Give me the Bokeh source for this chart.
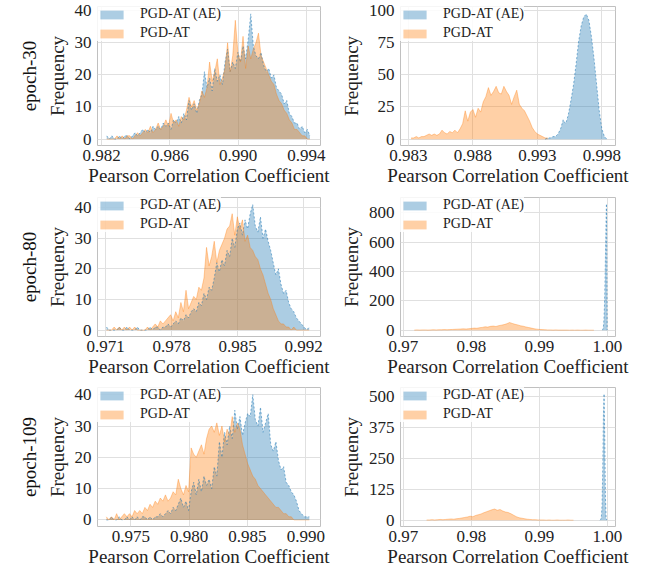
import numpy as np
from bokeh.plotting import figure
from bokeh.layouts import column, row
from bokeh.models import Range1d, FixedTicker, NumeralTickFormatter, Title
from bokeh.embed import file_html
from bokeh.resources import INLINE

LABEL_AE = "PGD-AT (AE)"
LABEL_AT = "PGD-AT"
ROW_LABELS = ["epoch-30", "epoch-80", "epoch-109"]

# ---------------- epoch-30, left (shared bin grid) ----------------
E30_L_X = (0.9823, 0.9942, 80)
E30_AE_L = [1,0,1,0,0,1,0,1,1,0, 1,2,1,2,3,2,3,2,4,3, 4,3,5,4,5,3,6,5,7,5,
            8,6,12,9,11,8,12,14,21,16, 19,15,22,18,20,17,24,28,21,24,
            22,27,24,29,25,31,39,29,26,25, 27,23,21,22,19,20,16,15,14,11,
            12,8,7,5,5,3,4,2,3,1]
E30_AT_L = [0,0,0,0,1,0,1,0,1,1, 0,1,2,1,2,3,2,4,2,3, 5,3,4,6,4,8,5,6,4,7,
            6,9,13,10,12,9,11,15,13,16, 24,18,21,25,17,19,22,30,21,26,
            37,27,24,32,22,29,25,28,30,33, 26,24,22,20,18,17,14,12,11,9,
            8,6,5,3,3,2,1,1,0,0]

# ---------------- epoch-80, left ----------------
E80_L_X = (0.9711, 0.9926, 80)
E80_AE_L = [1,0,0,0,0,1,0,0,1,0, 0,0,1,0,0,0,0,1,0,1, 1,0,1,1,2,1,2,3,2,4,
            3,5,4,6,7,6,9,8,12,10, 14,13,17,22,19,23,21,26,24,30,
            27,33,35,31,36,33,38,41,34,32, 37,30,33,29,26,22,18,20,15,12,
            13,9,7,6,4,3,2,1,0,1]
E80_AT_L = [0,0,0,1,0,1,0,1,0,1, 0,1,0,0,0,0,1,0,1,2, 1,3,2,3,4,5,3,6,4,9,
            6,13,7,9,11,10,14,13,17,27, 21,24,29,22,26,28,30,33,34,38,
            31,37,33,36,29,31,27,26,24,23, 20,18,15,12,10,7,5,3,2,2,
            1,1,0,1,0,0,0,0,0,0]

# ---------------- epoch-109, left ----------------
E109_L_X = (0.9729, 0.9903, 80)
E109_AE_L = [0,0,1,0,0,1,0,0,1,0, 1,0,1,0,1,1,0,1,0,1, 1,2,1,2,3,2,4,3,5,7,
             4,6,3,9,12,8,13,9,14,11, 13,10,17,14,25,20,28,24,30,26,
             35,29,33,27,31,34,33,40,32,30, 36,28,31,34,24,22,25,19,16,17,
             12,11,9,8,6,3,2,1,1,1]
E109_AT_L = [1,0,1,0,2,0,1,2,1,2, 1,3,2,3,2,4,3,5,4,6, 5,7,6,8,6,7,9,8,13,10,
             8,11,9,23,21,20,22,24,21,26, 29,30,28,31,27,30,25,29,27,33,
             28,31,29,24,21,18,16,14,13,11, 10,9,8,7,6,5,4,4,3,2,
             2,1,1,0,0,0,0,0,0,0]

# ---------------- epoch-30, right ----------------
E30_AT_R_X = (0.9832, 0.9938, 54)
E30_AT_R = [1,1,2,1,2,2,3,4,3,4, 3,4,7,5,4,6,5,7,5,8, 12,22,14,21,23,17,24,21,29,33,
            40,34,37,41,36,35,41,37,34,27, 33,38,27,24,22,18,14,9,6,4, 3,2,1,1]
E30_AE_R_X = (0.9936, 0.9984, 25)
E30_AE_R = [0,1,1,2,2,4,8,15,12,19, 30,42,58,76,88,95,97,92,79,62, 42,22,8,2,0]

# ---------------- epoch-80, right ----------------
E80_AT_R_X = (0.9716, 0.9980, 67)
E80_AT_R = [1,2,1,2,2,1,2,3,2,3, 3,4,3,4,5,6,7,8,9,8, 10,12,14,13,17,19,23,21,26,28,
            25,31,34,38,44,52,46,40,36,30, 27,22,18,14,10,7,5,4,3,2,
            2,1,2,1,1,1,1,0,1,0, 1,0,0,1,0,0,0]
E80_AE_R_X = (0.99920, 0.99995, 16)
E80_AE_R = [0,2,5,12,25,50,95,160,250,370,500,640,780,860,520,0]

# ---------------- epoch-109, right ----------------
E109_AT_R_X = (0.9734, 0.9950, 55)
E109_AT_R = [1,1,2,1,2,3,2,3,4,5, 4,6,7,9,11,13,16,14,19,22, 25,30,34,38,42,45,40,43,37,33,
             31,26,20,14,10,8,6,4,3,2, 2,1,1,1,0,1,0,0,1,0, 0,0,1,0,0]
E109_AE_R_X = (0.99890, 0.99990, 11)
E109_AE_R = [0,3,12,60,200,420,510,330,90,10,0]

# ticks
X_TICKS = [[0.982, 0.986, 0.990, 0.994], [0.983, 0.988, 0.993, 0.998],
           [0.971, 0.978, 0.985, 0.992], [0.97, 0.98, 0.99, 1.00],
           [0.975, 0.980, 0.985, 0.990], [0.97, 0.98, 0.99, 1.00]]
Y_TICKS = [[0, 10, 20, 30, 40], [0, 25, 50, 75, 100],
           [0, 10, 20, 30, 40], [0, 200, 400, 600, 800],
           [0, 10, 20, 30, 40], [0, 125, 250, 375, 500]]

BLUE = "#1f77b4"
ORANGE = "#ff7f0e"
FONT = "Liberation Serif"
TEXT = "#222222"


def grid_x(spec):
    a, b, n = spec
    return np.linspace(a, b, n)


def make_panel(xa, ya, xb, yb, xr, yr, xt, yt, xfmt, left, height, top, epoch=None):
    w = 330 if left else 310
    p = figure(width=w, height=height, x_range=Range1d(*xr), y_range=Range1d(*yr),
               output_backend="svg", toolbar_location=None,
               min_border_left=97 if left else 70,
               min_border_right=10 if left else 25,
               min_border_top=top, min_border_bottom=45)
    p.varea(x=xa, y1=0, y2=ya, fill_color=BLUE, fill_alpha=0.37, legend_label=LABEL_AE)
    p.varea(x=xb, y1=0, y2=yb, fill_color=ORANGE, fill_alpha=0.37, legend_label=LABEL_AT)
    p.line(x=xa, y=ya, line_color=BLUE, line_width=0.9, line_alpha=0.6, line_dash="2 2")
    p.line(x=xb, y=yb, line_color=ORANGE, line_width=0.8, line_alpha=0.45)

    p.xaxis.ticker = FixedTicker(ticks=xt)
    p.yaxis.ticker = FixedTicker(ticks=yt)
    p.xaxis.formatter = NumeralTickFormatter(format=xfmt)
    p.xaxis.axis_label = "Pearson Correlation Coefficient"
    p.yaxis.axis_label = "Frequency"
    for ax in (p.xaxis[0], p.yaxis[0]):
        ax.axis_line_color = None
        ax.major_tick_line_color = None
        ax.minor_tick_line_color = None
        ax.major_tick_out = 0
        ax.major_tick_in = 0
        ax.major_label_text_font = FONT
        ax.major_label_text_font_size = "17px"
        ax.major_label_text_color = TEXT
        ax.axis_label_text_font = FONT
        ax.axis_label_text_font_size = "19px"
        ax.axis_label_text_font_style = "normal"
        ax.axis_label_text_color = TEXT
    p.xaxis.major_label_standoff = 4
    p.xaxis.axis_label_standoff = 1
    p.yaxis.major_label_standoff = 6
    p.yaxis.axis_label_standoff = 4

    p.xgrid.grid_line_color = "#e0e0e0"
    p.ygrid.grid_line_color = "#e0e0e0"
    p.outline_line_color = "#c0c0c0"

    lg = p.legend[0]
    lg.location = "top_left"
    lg.margin = 0
    lg.padding = 2
    lg.spacing = 3
    lg.glyph_width = 29
    lg.glyph_height = 11
    lg.label_standoff = 14
    lg.label_text_font = FONT
    lg.label_text_font_size = "14px"
    lg.label_text_color = TEXT
    lg.border_line_color = None
    lg.background_fill_alpha = 0.85

    if epoch is not None:
        p.add_layout(Title(text=epoch, text_font=FONT, text_font_size="19px",
                           text_font_style="normal", align="center", standoff=8,
                           text_color="#111111"), "left")
    return p


p1 = make_panel(grid_x(E30_L_X), E30_AE_L, grid_x(E30_L_X), E30_AT_L,
                (0.98176, 0.99482), (-2.0, 41.3), X_TICKS[0], Y_TICKS[0], "0.000",
                True, 190, 6, ROW_LABELS[0])
p2 = make_panel(grid_x(E30_AE_R_X), E30_AE_R, grid_x(E30_AT_R_X), E30_AT_R,
                (0.98238, 0.99906), (-4.9, 102.9), X_TICKS[1], Y_TICKS[1], "0.000",
                False, 190, 6)
p3 = make_panel(grid_x(E80_L_X), E80_AE_L, grid_x(E80_L_X), E80_AT_L,
                (0.97015, 0.99380), (-2.1, 43.3), X_TICKS[2], Y_TICKS[2], "0.000",
                True, 191, 7, ROW_LABELS[1])
p4 = make_panel(grid_x(E80_AE_R_X), E80_AE_R, grid_x(E80_AT_R_X), E80_AT_R,
                (0.96956, 1.00118), (-43, 903), X_TICKS[3], Y_TICKS[3], "0.00",
                False, 191, 7)
p5 = make_panel(grid_x(E109_L_X), E109_AE_L, grid_x(E109_L_X), E109_AT_L,
                (0.97214, 0.99126), (-2.1, 42.3), X_TICKS[4], Y_TICKS[4], "0.000",
                True, 190, 6, ROW_LABELS[2])
p6 = make_panel(grid_x(E109_AE_R_X), E109_AE_R, grid_x(E109_AT_R_X), E109_AT_R,
                (0.96956, 1.00118), (-25.5, 535.5), X_TICKS[5], Y_TICKS[5], "0.00",
                False, 190, 6)

layout = column(row(p1, p2), row(p3, p4), row(p5, p6))
open("out.html", "w").write(file_html(layout, INLINE))
